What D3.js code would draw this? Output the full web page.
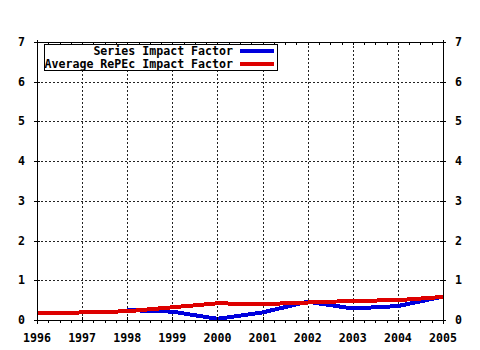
<!DOCTYPE html>
<html><head><meta charset="utf-8">
<script src="https://cdn.jsdelivr.net/npm/d3@7"></script>
<style>body{margin:0;background:#fff}svg{display:block}text{font-family:"DejaVu Sans Mono",monospace;font-weight:bold;font-size:11.6px;fill:#000}</style>
</head><body>
<svg id="c" width="480" height="350"></svg>
<script>
const years = [1996,1997,1998,1999,2000,2001,2002,2003,2004,2005];
const seriesIF = [null,null,0.25,0.21,0.03,0.19,0.46,0.29,0.35,0.59];
const avgIF = [0.17,0.19,0.22,0.32,0.42,0.40,0.44,0.48,0.50,0.58];
const yTicks = [0,1,2,3,4,5,6,7];
const legendLabels = ["Series Impact Factor","Average RePEc Impact Factor"];
const colors = ["#0000dd","#dd0000"];

const svg = d3.select("#c");
const L=37,R=443,T=42,B=320;
const x = d3.scaleLinear().domain([1996,2005]).range([L,R]);
const y = d3.scaleLinear().domain([0,7]).range([B,T]);

// grid
const g = svg.append("g").attr("shape-rendering","crispEdges");
years.slice(1,-1).forEach(v=>g.append("line").attr("x1",x(v)+0.5).attr("x2",x(v)+0.5).attr("y1",T).attr("y2",B).attr("stroke","#222").attr("stroke-dasharray","2,2"));
yTicks.slice(1,-1).forEach(v=>g.append("line").attr("x1",L).attr("x2",R).attr("y1",y(v)+0.5).attr("y2",y(v)+0.5).attr("stroke","#222").attr("stroke-dasharray","2,2"));

// lines
const line = d3.line().defined(d=>d[1]!=null).x(d=>x(d[0])).y(d=>y(d[1]));
svg.append("path").datum(years.map((yr,i)=>[yr,seriesIF[i]])).attr("d",line).attr("fill","none").attr("stroke",colors[0]).attr("stroke-width",4).attr("shape-rendering","crispEdges");
svg.append("path").datum(years.map((yr,i)=>[yr,avgIF[i]])).attr("d",line).attr("fill","none").attr("stroke",colors[1]).attr("stroke-width",4).attr("shape-rendering","crispEdges");

// frame
const a = svg.append("g").attr("shape-rendering","crispEdges").attr("stroke","#000");
a.append("line").attr("x1",L).attr("x2",R+1).attr("y1",B+0.5).attr("y2",B+0.5);
a.append("line").attr("x1",L).attr("x2",R+1).attr("y1",T+0.5).attr("y2",T+0.5);
a.append("line").attr("x1",L+0.5).attr("x2",L+0.5).attr("y1",T-2).attr("y2",B+4);
a.append("line").attr("x1",R+0.5).attr("x2",R+0.5).attr("y1",T-2).attr("y2",B+4);
// ticks
yTicks.forEach(v=>{
  a.append("line").attr("x1",L-3).attr("x2",L+3).attr("y1",y(v)+0.5).attr("y2",y(v)+0.5);
  a.append("line").attr("x1",R-3).attr("x2",R+3).attr("y1",y(v)+0.5).attr("y2",y(v)+0.5);
});
const minor = d3.range(1996,2005.01,0.25);
minor.forEach(v=>{
  a.append("line").attr("x1",x(v)+0.5).attr("x2",x(v)+0.5).attr("y1",B).attr("y2",B+3);
  a.append("line").attr("x1",x(v)+0.5).attr("x2",x(v)+0.5).attr("y1",T).attr("y2",T+3);
});
years.forEach(v=>{
  a.append("line").attr("x1",x(v)+0.5).attr("x2",x(v)+0.5).attr("y1",B-3).attr("y2",B+3);
});

// labels
yTicks.forEach(v=>{
  svg.append("text").attr("x",25).attr("y",y(v)+4).attr("text-anchor","end").text(v);
  svg.append("text").attr("x",455).attr("y",y(v)+4).attr("text-anchor","start").text(v);
});
years.forEach(v=>svg.append("text").attr("x",x(v)).attr("y",342).attr("text-anchor","middle").text(v));

// legend
svg.append("rect").attr("x",44.5).attr("y",44.5).attr("width",233).attr("height",26).attr("fill","#fff").attr("stroke","#000").attr("shape-rendering","crispEdges");
legendLabels.forEach((t,i)=>{
  const yy = 51 + i*12.5;
  svg.append("text").attr("x",233).attr("y",yy+4).attr("text-anchor","end").text(t);
  svg.append("line").attr("x1",240).attr("x2",274).attr("y1",yy).attr("y2",yy).attr("stroke",colors[i]).attr("stroke-width",4).attr("shape-rendering","crispEdges");
});
</script>
</body></html>
